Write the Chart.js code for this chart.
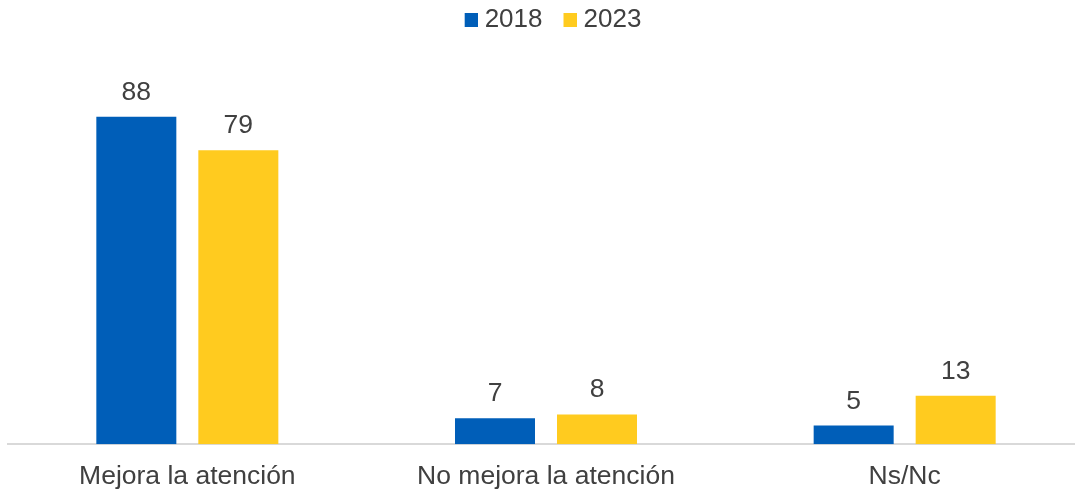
<!DOCTYPE html>
<html lang="es">
<head>
<meta charset="utf-8">
<title>Atención 2018 / 2023</title>
<script src="https://cdn.jsdelivr.net/npm/chart.js@4/dist/chart.umd.min.js"></script>
<style>
	html, body {
		margin: 0;
		padding: 0;
		background: #fff;
		overflow: hidden;
	}
	#wrap {
		position: relative;
		width: 1084px;
		height: 510px;
	}
</style>
</head>
<body>
<div id="wrap"><canvas id="attentionChart"></canvas></div>
<script>
	'use strict';

	const categories = ['Mejora la atención', 'No mejora la atención', 'Ns/Nc'];
	const seriesNames = ['2018', '2023'];
	const values2018 = [88, 7, 5];
	const values2023 = [79, 8, 13];
	const seriesColors = ['#005eb8', '#ffcb1f'];

	const FONT = "'Liberation Sans', Arial, sans-serif";
	const TEXT_COLOR = '#404040';

	/**
	 * Legend swatch: square on the right side of a transparent strip,
	 * so the gap to the text and between items stays tight.
	 */
	function makeSwatch(color) {
		const c = document.createElement('canvas');
		c.width = 33;
		c.height = 14;
		const ctx = c.getContext('2d');
		ctx.fillStyle = color;
		ctx.fillRect(20, 0, 13, 14);
		return c;
	}
	const swatches = seriesColors.map(makeSwatch);

	// Extra room between the legend and the plot area
	const legendGap = {
		id: 'legendGap',
		beforeInit(chart) {
			const fit = chart.legend.fit;
			chart.legend.fit = function() {
				fit.call(this);
				this.height += 29;
			};
		}
	};

	// Value labels above each bar
	const barValues = {
		id: 'barValues',
		afterDatasetsDraw(chart) {
			const ctx = chart.ctx;
			ctx.save();
			ctx.font = '26.5px ' + FONT;
			ctx.fillStyle = TEXT_COLOR;
			ctx.textAlign = 'center';
			ctx.textBaseline = 'alphabetic';
			chart.data.datasets.forEach(function(ds, i) {
				chart.getDatasetMeta(i).data.forEach(function(bar, j) {
					ctx.fillText(String(ds.data[j]), bar.x, bar.y - 17);
				});
			});
			ctx.restore();
		}
	};

	new Chart(document.getElementById('attentionChart'), {
		type: 'bar',
		data: {
			labels: categories,
			datasets: [
				{
					label: seriesNames[0],
					data: values2018,
					backgroundColor: seriesColors[0],
					borderWidth: 0
				},
				{
					label: seriesNames[1],
					data: values2023,
					backgroundColor: seriesColors[1],
					borderWidth: 0
				}
			]
		},
		options: {
			responsive: true,
			maintainAspectRatio: false,
			animation: false,
			categoryPercentage: 0.5688,
			barPercentage: 0.7843,
			layout: {
				padding: { left: 8, right: 0, top: 0, bottom: 0 }
			},
			plugins: {
				legend: {
					position: 'top',
					align: 'center',
					labels: {
						usePointStyle: true,
						pointStyleWidth: 21,
						padding: 7,
						color: TEXT_COLOR,
						font: { family: FONT, size: 26 },
						generateLabels: function(chart) {
							const items = Chart.defaults.plugins.legend.labels.generateLabels(chart);
							items.forEach(function(item, i) {
								item.pointStyle = swatches[i];
							});
							return items;
						}
					}
				},
				tooltip: { enabled: false }
			},
			scales: {
				x: {
					grid: { display: false, drawTicks: false },
					border: { display: true, color: '#d9d9d9', width: 2 },
					ticks: {
						padding: 17,
						color: TEXT_COLOR,
						font: { family: FONT, size: 26.5 }
					}
				},
				y: {
					display: false,
					min: 0,
					max: 100
				}
			}
		},
		plugins: [legendGap, barValues]
	});
</script>
</body>
</html>
